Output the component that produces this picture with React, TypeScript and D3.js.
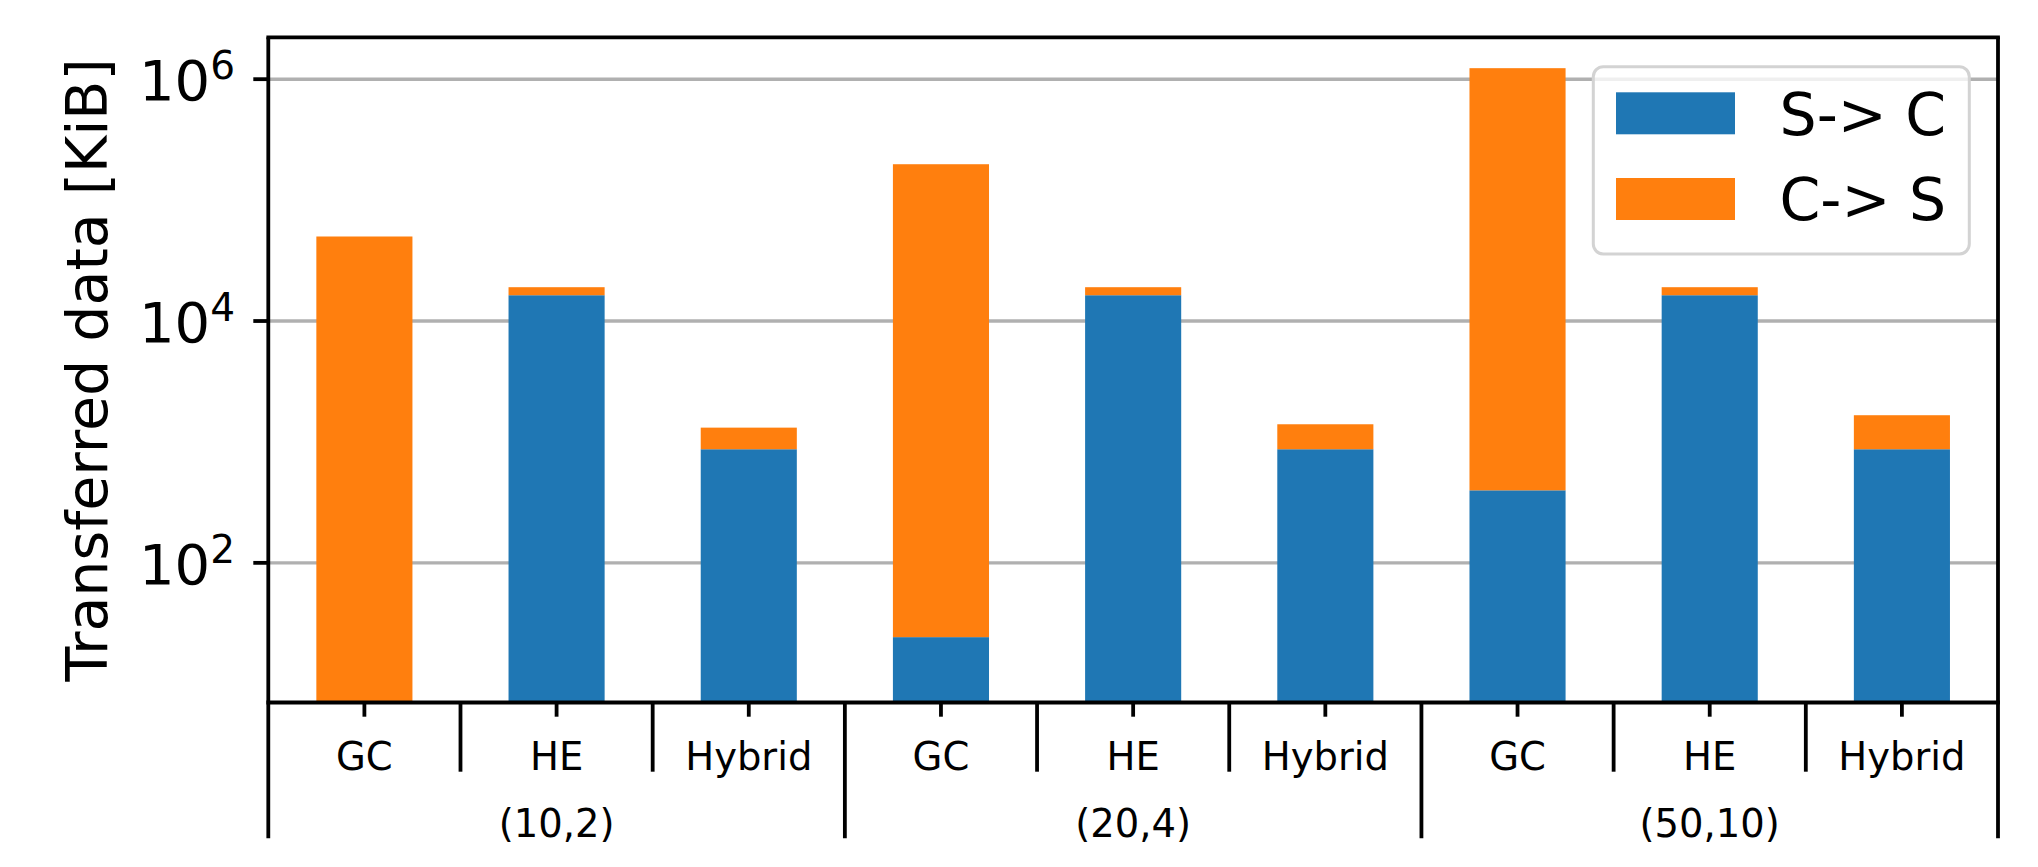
import React from "react";
import * as d3 from "d3";

// ---- data ----
const groups = ["(10,2)", "(20,4)", "(50,10)"];
const methods = ["GC", "HE", "Hybrid"];
// S-> C (KiB), one value per bar, grouped by (n,k)
const serverToClient = [5, 16340, 870, 24.3, 16340, 870, 398, 16340, 870];
// C-> S (KiB), stacked on top
const clientToServer = [49995, 2700, 443, 197976, 2700, 530, 1232600, 2700, 793];
const yTickExponents = [2, 4, 6];
const legendLabels = ["S-> C", "C-> S"];
const colors = ["#1f77b4", "#ff7f0e"];

const W = 2038;
const H = 867;
const FONT = "DejaVu Sans";

export default function App() {
  const left = 268.3;
  const right = 1998;
  const top = 37.3;
  const bottom = 702.5;
  const nBars = groups.length * methods.length;

  const x = d3.scaleLinear().domain([-0.5, nBars - 0.5]).range([left, right]);
  const y = d3.scaleLog().domain([7.0, 2.22e6]).range([bottom, top]).clamp(true);
  const barW = x(0.5) - x(0); // 0.5 units wide
  const yMin = y.domain()[0];

  const bars = serverToClient.map((s, i) => {
    const total = s + clientToServer[i];
    return { i, s, total };
  });

  const spineW = 3.8;
  const catLineEnd = 771.7;
  const groupLineEnd = 838.3;

  return (
    <svg
      width={W}
      height={H}
      style={{ position: "absolute", left: 0, top: 0, background: "#fff" }}
      fontFamily={FONT}
    >
      <rect x={0} y={0} width={W} height={H} fill="#fff" />
      {/* gridlines */}
      {yTickExponents.map((e) => (
        <line
          key={"g" + e}
          x1={left}
          x2={right}
          y1={y(Math.pow(10, e))}
          y2={y(Math.pow(10, e))}
          stroke="#b0b0b0"
          strokeWidth={3.4}
        />
      ))}
      {/* bars */}
      {bars.map((b) => (
        <g key={"b" + b.i}>
          <rect
            x={x(b.i) - barW / 2}
            width={barW}
            y={y(b.s)}
            height={Math.max(0, y(yMin) - y(b.s))}
            fill={colors[0]}
          />
          <rect
            x={x(b.i) - barW / 2}
            width={barW}
            y={y(b.total)}
            height={Math.max(0, y(b.s) - y(b.total))}
            fill={colors[1]}
          />
        </g>
      ))}
      {/* spines */}
      <line x1={left} x2={right} y1={top} y2={top} stroke="#000" strokeWidth={spineW} strokeLinecap="square" />
      <line x1={left} x2={right} y1={bottom} y2={bottom} stroke="#000" strokeWidth={spineW} strokeLinecap="square" />
      <line x1={left} x2={left} y1={top} y2={groupLineEnd} stroke="#000" strokeWidth={spineW} />
      <line x1={right} x2={right} y1={top} y2={groupLineEnd} stroke="#000" strokeWidth={spineW} />
      {/* y ticks */}
      {yTickExponents.map((e) => {
        const yy = y(Math.pow(10, e));
        return (
          <g key={"t" + e}>
            <line x1={left - 15} x2={left} y1={yy} y2={yy} stroke="#000" strokeWidth={spineW} />
            <text x={235} y={yy + 20.7} textAnchor="end" fontSize={56} fill="#000">
              <tspan>10</tspan>
              <tspan dy={-20.7} fontSize={39}>
                {e}
              </tspan>
            </text>
          </g>
        );
      })}
      {/* y label */}
      <text
        transform={`translate(106.5,${(top + bottom) / 2}) rotate(-90)`}
        textAnchor="middle"
        fontSize={57}
        fill="#000"
      >
        Transferred data [KiB]
      </text>
      {/* x minor ticks and category labels */}
      {bars.map((b) => (
        <g key={"x" + b.i}>
          <line x1={x(b.i)} x2={x(b.i)} y1={bottom} y2={716.7} stroke="#000" strokeWidth={spineW} />
          <text x={x(b.i)} y={770} textAnchor="middle" fontSize={38.5} fill="#000">
            {methods[b.i % methods.length]}
          </text>
        </g>
      ))}
      {/* separators */}
      {d3.range(1, nBars).map((k) => {
        const xx = x(k - 0.5);
        const isGroup = k % methods.length === 0;
        return (
          <line
            key={"s" + k}
            x1={xx}
            x2={xx}
            y1={bottom}
            y2={isGroup ? groupLineEnd : catLineEnd}
            stroke="#000"
            strokeWidth={spineW}
          />
        );
      })}
      {/* group labels */}
      {groups.map((g, gi) => (
        <text
          key={"gl" + gi}
          x={x(gi * methods.length + (methods.length - 1) / 2)}
          y={836.5}
          textAnchor="middle"
          fontSize={38.5}
          fill="#000"
        >
          {g}
        </text>
      ))}
      {/* legend */}
      <rect
        x={1593.3}
        y={66.7}
        width={376}
        height={187.3}
        rx={10}
        ry={10}
        fill="#fff"
        fillOpacity={0.8}
        stroke="#d3d3d3"
        strokeWidth={3}
      />
      {legendLabels.map((l, li) => (
        <g key={"l" + li}>
          <rect x={1616} y={92.3 + li * 85.7} width={119} height={42} fill={colors[li]} />
          <text x={1779.5} y={134.5 + li * 85.5} fontSize={58.5} fill="#000">
            {l}
          </text>
        </g>
      ))}
    </svg>
  );
}
